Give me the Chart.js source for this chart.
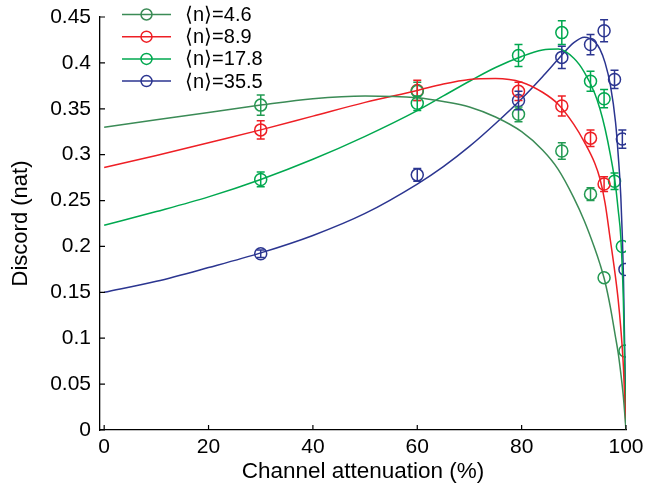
<!DOCTYPE html>
<html>
<head>
<meta charset="utf-8">
<script src="https://cdn.jsdelivr.net/npm/chart.js@4.4.0/dist/chart.umd.min.js"></script>
<style>
  html, body { margin: 0; padding: 0; background: #fff; }
</style>
</head>
<body>
<canvas id="discordChart" width="645" height="487"></canvas>
<script>
  const fontFamily = "'Liberation Sans', Arial, Helvetica, sans-serif";

  const seriesLabels = ['⟨n⟩=4.6', '⟨n⟩=8.9', '⟨n⟩=17.8', '⟨n⟩=35.5'];
  const seriesColors = ['#3b8b56', '#ee1f25', '#00a84f', '#2b3590'];
  const markerColors = ['#229a52', '#ee1f25', '#00a84f', '#2b3590'];

  const xTicks = [0, 20, 40, 60, 80, 100];
  const yTicks = [0, 0.05, 0.1, 0.15, 0.2, 0.25, 0.3, 0.35, 0.4, 0.45];

  // measured points (x = attenuation %, y = discord, err = half error bar)
  const x46 = [30, 60, 79.4, 87.7, 93.2, 95.8, 99.8];
  const y46 = [0.354, 0.369, 0.344, 0.304, 0.257, 0.166, 0.086];
  const err46 = [0.011, 0.010, 0.008, 0.009, 0.007, 0, 0];

  const x89 = [30, 60, 79.4, 87.7, 93.2, 95.8];
  const y89 = [0.327, 0.370, 0.369, 0.353, 0.318, 0.268];
  const err89 = [0.010, 0.011, 0.010, 0.011, 0.009, 0.008];

  const x178 = [30, 60, 79.4, 87.7, 93.2, 95.8, 97.8, 99.3];
  const y178 = [0.273, 0.356, 0.408, 0.433, 0.380, 0.361, 0.271, 0.200];
  const err178 = [0.008, 0.008, 0.012, 0.013, 0.011, 0.010, 0.009, 0];

  const x355 = [30, 60, 79.4, 87.7, 93.2, 95.8, 97.8, 99.3, 99.8];
  const y355 = [0.192, 0.278, 0.359, 0.406, 0.420, 0.435, 0.382, 0.317, 0.175];
  const err355 = [0.004, 0.007, 0.010, 0.012, 0.011, 0.012, 0.010, 0.010, 0];

  // theory curves
  const curveX = [0, 10, 20, 30, 40, 50, 60, 65, 70, 75, 80, 84, 87, 90, 92, 94, 95, 96, 97, 98, 98.5, 99, 99.5, 100];
  const curve46 = [0.330, 0.338, 0.346, 0.354, 0.361, 0.364, 0.362, 0.358, 0.352, 0.341, 0.325, 0.305, 0.284, 0.253, 0.228, 0.198, 0.181, 0.161, 0.134, 0.101, 0.084, 0.062, 0.036, 0];
  const curve89 = [0.286, 0.299, 0.313, 0.327, 0.342, 0.357, 0.370, 0.377, 0.382, 0.383, 0.379, 0.368, 0.355, 0.333, 0.314, 0.291, 0.274, 0.247, 0.207, 0.166, 0.142, 0.111, 0.069, 0];
  const curve178 = [0.223, 0.238, 0.254, 0.273, 0.295, 0.320, 0.348, 0.364, 0.380, 0.395, 0.407, 0.414, 0.415, 0.405, 0.390, 0.367, 0.350, 0.328, 0.300, 0.266, 0.240, 0.210, 0.140, 0];
  const curve355 = [0.150, 0.162, 0.177, 0.193, 0.212, 0.236, 0.268, 0.287, 0.309, 0.334, 0.361, 0.385, 0.404, 0.422, 0.428, 0.423, 0.415, 0.400, 0.376, 0.335, 0.300, 0.255, 0.170, 0];

  const pointX = [x46, x89, x178, x355];
  const pointY = [y46, y89, y178, y355];
  const pointErr = [err46, err89, err178, err355];
  const curves = [curve46, curve89, curve178, curve355];

  const datasets = [];
  curves.forEach((c, i) => {
    datasets.push({
      label: seriesLabels[i] + ' fit',
      data: curveX.map((x, j) => ({ x: x, y: c[j] })),
      borderColor: seriesColors[i],
      borderWidth: 1.5,
      pointRadius: 0,
      cubicInterpolationMode: 'monotone',
      fill: false
    });
  });
  pointX.forEach((xs, i) => {
    datasets.push({
      label: seriesLabels[i],
      data: xs.map((x, j) => ({ x: x, y: pointY[i][j] })),
      errors: pointErr[i],
      showLine: false,
      borderColor: markerColors[i],
      backgroundColor: 'rgba(0,0,0,0)',
      pointRadius: 6,
      pointBorderWidth: 1.5,
      pointHoverRadius: 6
    });
  });

  // vertical error bars with caps
  const errorBars = {
    id: 'errorBars',
    afterDatasetsDraw(chart) {
      const ctx = chart.ctx;
      const yScale = chart.scales.y;
      chart.data.datasets.forEach((ds, i) => {
        if (!ds.errors) return;
        const meta = chart.getDatasetMeta(i);
        ctx.save();
        ctx.strokeStyle = ds.borderColor;
        ctx.lineWidth = 1.5;
        meta.data.forEach((pt, j) => {
          const e = ds.errors[j];
          if (!e) return;
          const v = ds.data[j].y;
          const top = yScale.getPixelForValue(v + e);
          const bot = yScale.getPixelForValue(v - e);
          ctx.beginPath();
          ctx.moveTo(pt.x, top); ctx.lineTo(pt.x, bot);
          ctx.moveTo(pt.x - 4, top); ctx.lineTo(pt.x + 4, top);
          ctx.moveTo(pt.x - 4, bot); ctx.lineTo(pt.x + 4, bot);
          ctx.stroke();
        });
        ctx.restore();
      });
    }
  };

  // tick marks pointing into the plot
  const innerTicks = {
    id: 'innerTicks',
    afterDraw(chart) {
      const { ctx, chartArea } = chart;
      const xs = chart.scales.x, ys = chart.scales.y;
      ctx.save();
      ctx.strokeStyle = '#000';
      ctx.lineWidth = 1.2;
      ctx.beginPath();
      xTicks.forEach(v => {
        const px = xs.getPixelForValue(v);
        ctx.moveTo(px, chartArea.bottom);
        ctx.lineTo(px, chartArea.bottom - 5);
      });
      yTicks.forEach(v => {
        const py = ys.getPixelForValue(v);
        ctx.moveTo(chartArea.left, py);
        ctx.lineTo(chartArea.left + 5, py);
      });
      ctx.stroke();
      ctx.restore();
    }
  };

  // legend in the upper left corner
  const cornerLegend = {
    id: 'cornerLegend',
    afterDraw(chart) {
      const ctx = chart.ctx;
      ctx.save();
      ctx.font = '20px ' + fontFamily;
      ctx.textBaseline = 'middle';
      ctx.lineWidth = 1.5;
      seriesLabels.forEach((lab, i) => {
        const y = 14.5 + i * 22.2;
        ctx.strokeStyle = seriesColors[i];
        ctx.beginPath();
        ctx.moveTo(122, y); ctx.lineTo(171, y);
        ctx.stroke();
        ctx.beginPath();
        ctx.arc(146.5, y, 5.5, 0, Math.PI * 2);
        ctx.stroke();
        ctx.fillStyle = '#000';
        ctx.fillText(lab, 185, y + 1);
      });
      ctx.restore();
    }
  };

  const ctx = document.getElementById('discordChart').getContext('2d');
  const discordChart = new Chart(ctx, {
    type: 'line',
    data: { datasets: datasets },
    plugins: [errorBars, innerTicks, cornerLegend],
    options: {
      responsive: false,
      animation: false,
      layout: { padding: { top: 17, right: 19, left: 0, bottom: 0 } },
      plugins: {
        legend: { display: false },
        tooltip: { enabled: false }
      },
      scales: {
        x: {
          type: 'linear',
          min: -0.8,
          max: 100,
          afterBuildTicks: s => { s.ticks = xTicks.map(v => ({ value: v })); },
          afterFit: s => { s.height = 57; s.paddingLeft = 0; s.paddingRight = 0; },
          grid: { display: false, drawTicks: false },
          border: { display: true, color: '#000', width: 1.3 },
          ticks: {
            color: '#000',
            font: { family: fontFamily, size: 21 },
            padding: 5,
            maxRotation: 0,
            autoSkip: false
          },
          title: {
            display: true,
            text: 'Channel attenuation (%)',
            color: '#000',
            font: { family: fontFamily, size: 22.5 },
            padding: { top: 0, bottom: 2 }
          }
        },
        y: {
          min: 0,
          max: 0.45,
          afterBuildTicks: s => { s.ticks = yTicks.map(v => ({ value: v })); },
          afterFit: s => { s.width = 100; s.paddingTop = 0; s.paddingBottom = 0; },
          grid: { display: false, drawTicks: false },
          border: { display: true, color: '#000', width: 1.3 },
          ticks: {
            color: '#000',
            font: { family: fontFamily, size: 21 },
            padding: 9,
            callback: v => String(+v.toFixed(2))
          },
          title: {
            display: true,
            text: 'Discord (nat)',
            color: '#000',
            font: { family: fontFamily, size: 22 },
            padding: { top: 8, bottom: 0 }
          }
        }
      }
    }
  });
</script>
</body>
</html>
